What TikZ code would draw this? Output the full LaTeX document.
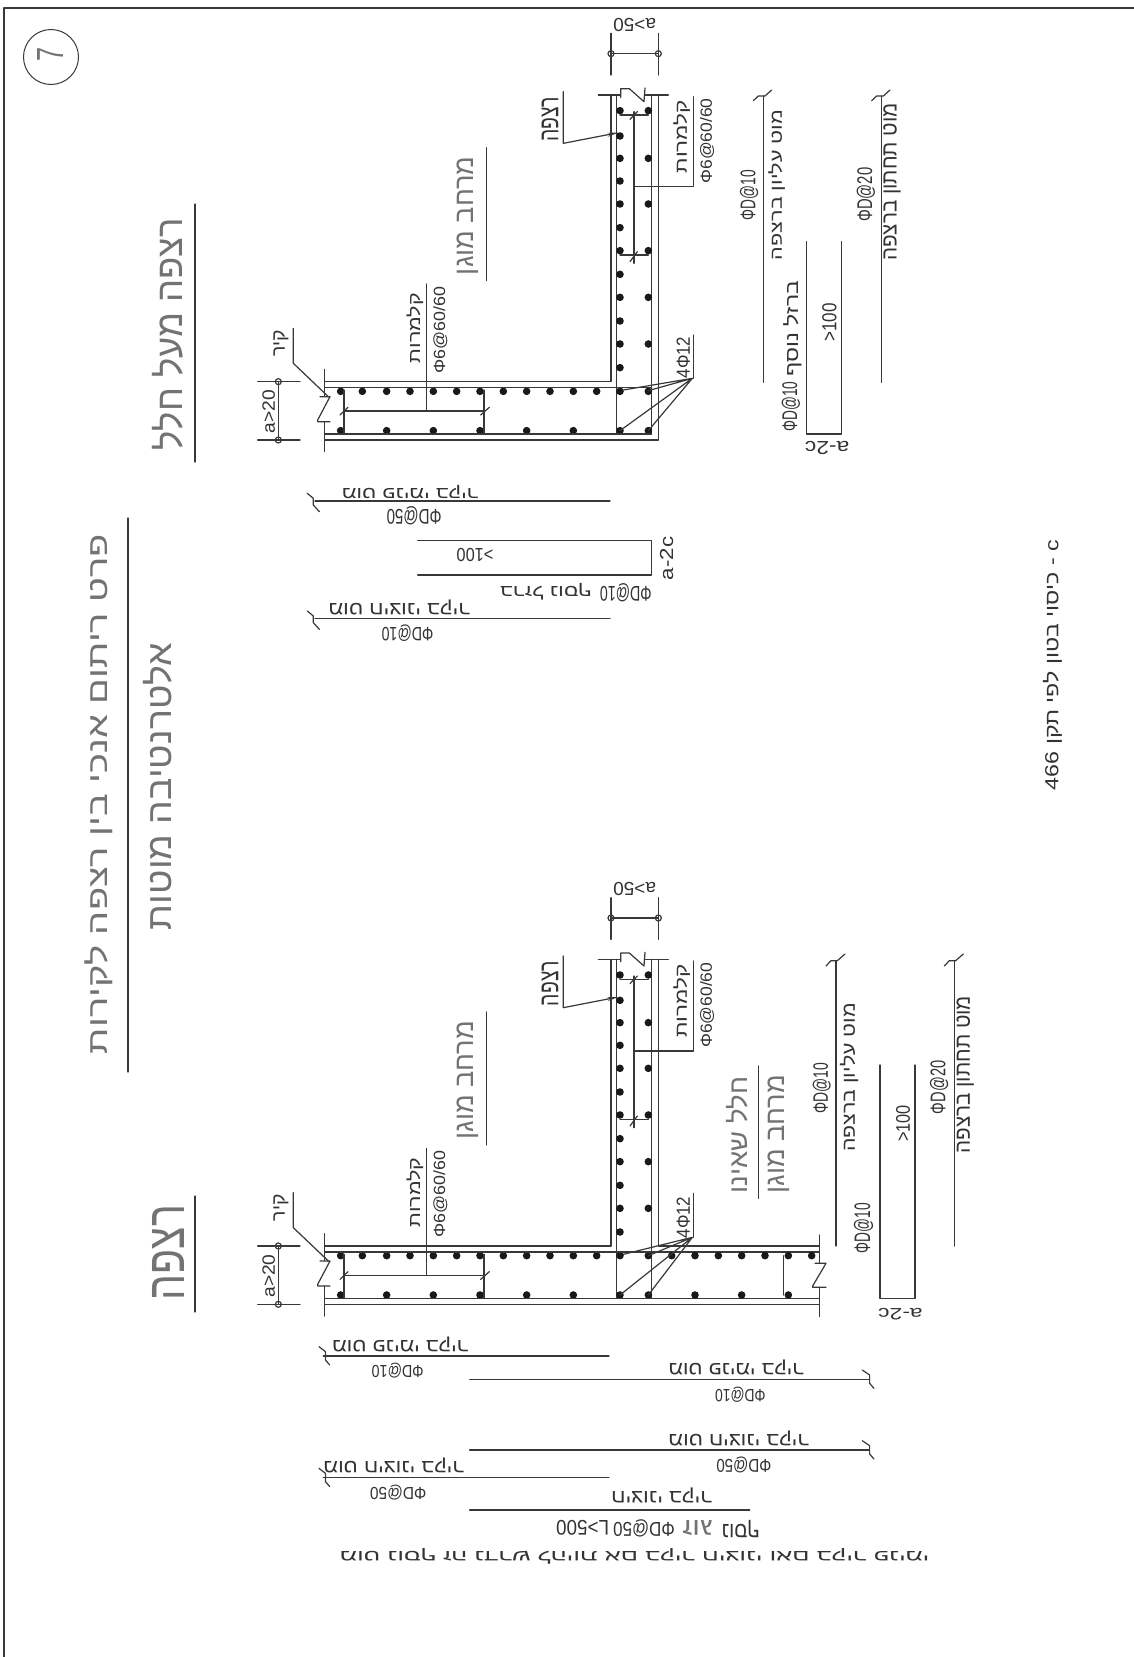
\documentclass[tikz,border=0pt]{standalone}
\usepackage{fontspec}
\usepackage{graphicx}
\usetikzlibrary{arrows.meta}
\setmainfont{Liberation Sans}
\newfontfamily\hb[Script=Hebrew]{Liberation Sans}
\TeXXeTstate=1
\newcommand\heb[1]{{\hb\beginR #1\endR}}
\newcommand\ttl[1]{{\color{black!55}#1}}
\newcounter{lc}
\def\sclx{3}\def\scly{3}
% upward text (rotate 90): x1 y1 x2 y2 text, in the current scope's units
\newcommand\vl[5]{\stepcounter{lc}%
  \pgfmathsetmacro\bl{abs(#4-#2)/\scly}\pgfmathsetmacro\bh{abs(#3-#1)/\sclx}%
  \node[lblnode,rotate=90,name=t\arabic{lc}] at ({(#1+#3)/2},{(#2+#4)/2}) {\resizebox*{\bl pt}{\bh pt}{#5}};}
% upside-down text (rotate 180)
\newcommand\hl[5]{\stepcounter{lc}%
  \pgfmathsetmacro\bl{abs(#3-#1)/\sclx}\pgfmathsetmacro\bh{abs(#4-#2)/\scly}%
  \node[lblnode,rotate=180,name=t\arabic{lc}] at ({(#1+#3)/2},{(#2+#4)/2}) {\resizebox*{\bl pt}{\bh pt}{#5}};}
\newcommand\rb[2]{\fill[dark] (#1,#2) circle[radius=3.8pt];}
\newcommand\dimc[2]{\draw[cad] (#1,#2) circle[radius=3pt];}
% parts common to both details, in the coordinates of the upper one
\newcommand\commonparts{%
  % inner concrete face
  \draw[cad] (285,1145) -- (1143,1145) -- (1143,285);
  % reinforcement faces
  \draw[cad] (1160,285) -- (1160,1302);
  \draw[cad] (1265,285) -- (1265,1302);
  % caps with break marks
  \draw[cad] (283,1108) -- (283,1188) (283,1265) -- (283,1355);
  \draw[cad] (270,1190) -- (300,1190) -- (263,1260) -- (263,1265) -- (300,1265);
  \draw[cad] (1105,285) -- (1170,285) (1245,285) -- (1315,285);
  \draw[cad] (1172,292) -- (1172,266) -- (1198,266) -- (1242,305) -- (1245,264);
  % bars
  \foreach \a in {332,397,470,540,610,680,750,820,890,960,1030,1100,1170,1255} {\rb{\a}{1174}}
  \foreach \a in {332,470,610,750,890,1030,1170,1255} {\rb{\a}{1292}}
  \foreach \a in {1103,1032,963,892,823,752,683,612,543,475,408,332} {\rb{1170}{\a}}
  \foreach \a in {332,475,612,752,892,1032} {\rb{1255}{\a}}
  % stirrups of the wall
  \draw[cad] (342,1233) -- (762,1233) (342,1170) -- (342,1300) (762,1170) -- (762,1300);
  \draw[cad] (330,1245) -- (354,1222) (752,1245) -- (778,1222);
  \draw[cad] (590,1233) -- (590,852);
  % stirrups of the slab
  \draw[cad] (1212,335) -- (1212,790) (1170,345) -- (1255,345) (1170,765) -- (1255,765);
  \draw[cad] (1200,358) -- (1222,335) (1200,785) -- (1222,755);
  \draw[cad] (1212,560) -- (1390,560) -- (1390,290);
  % dimensions
  \draw[cad] (1143,100) -- (1143,225) (1285,100) -- (1285,225) (1143,161) -- (1285,161);
  \dimc{1143}{161}\dimc{1285}{161}
  \draw[cad] (83,1145) -- (210,1145) (83,1320) -- (210,1320) (145,1145) -- (145,1320);
  \dimc{145}{1145}\dimc{145}{1320}
  % leaders
  \draw[cad,-{Stealth[length=11pt,width=4pt]}] (1000,275) -- (1000,430) -- (1165,398);
  \draw[cad] (190,985) -- (190,1090) -- (295,1190);
  \draw[cad] (770,443) -- (770,842);
  % labels
  \hl{1150}{55}{1278}{95}{a>50}
  \vl{97}{1170}{135}{1300}{a>20}
  \vl{130}{990}{175}{1070}{\heb{קיר}}
  \vl{530}{880}{580}{1090}{\heb{קלמרות}}
  \vl{610}{860}{652}{1120}{Φ6@60/60}
  \vl{1330}{300}{1380}{520}{\heb{קלמרות}}
  \vl{1410}{295}{1452}{550}{Φ6@60/60}
  \vl{935}{290}{985}{425}{\heb{רצפה}}
  \vl{680}{470}{745}{825}{\ttl{\heb{מרחב מוגן}}}
}
\tikzset{
  cad/.style={line width=1.2pt,draw=black!78,line cap=round,line join=round},
  dark/.style={fill=black!90},
  lblnode/.style={inner sep=0pt,outer sep=0pt,text=black!80}
}
\begin{document}
\begin{tikzpicture}[x=1pt,y=-1pt]
\useasboundingbox (0,0) rectangle (1134,1657);
\fill[white] (0,0) rectangle (1134,1657);
% sheet edge
\draw[cad,line width=1.5pt] (1134,8) -- (4,8) -- (4,1657);
\node[draw=black!78,line width=1pt,circle,minimum size=55pt,inner sep=0pt,name=mark] at (51,57) {};
% upper-left / side titles, in full pixels
\def\sclx{1}\def\scly{1}
\vl{1043}{540}{1062}{790}{\heb{c - כיסוי בטון לפי תקן \beginL 466\endL}}
\vl{37}{47}{63}{61}{\ttl{7}}
\draw[cad] (128,518) -- (128,1072);
\vl{85}{534}{113}{1054}{\ttl{\heb{פרט ריתום אנכי בין רצפה לקירות}}}
\vl{143}{643}{172}{930}{\ttl{\heb{אלטרנטיבה מוטות}}}
\draw[cad] (195,204) -- (195,462);
\vl{152}{218}{183}{450}{\ttl{\heb{רצפה מעל חלל}}}
\draw[cad] (195,1196) -- (195,1312);
\vl{152}{1205}{184}{1300}{\ttl{\heb{רצפה}}}
% ===== upper detail =====
\def\sclx{3}\def\scly{3}
\begin{scope}[shift={(230,0)},x=0.33333pt,y=-0.33333pt]
  \commonparts
  \draw[cad] (285,1163) -- (1265,1163);
  \draw[cad] (285,1302) -- (1265,1302);
  \draw[cad] (285,1320) -- (1285,1320) -- (1285,285);
  \draw[cad] (1390,1005) -- (1390,1135);
  \draw[cad] (1387,1135) -- (1180,1170) (1387,1135) -- (1255,1172) (1387,1135) -- (1170,1292) (1387,1135) -- (1255,1292);
  \vl{1340}{1010}{1380}{1135}{4Φ12}
\end{scope}
\begin{scope}[shift={(690,70)},x=0.33333pt,y=-0.33333pt]
  \draw[cad] (220,78) -- (220,937);
  \draw[cad] (190,92) -- (205,78) -- (225,78) -- (245,60);
  \draw[cad] (575,78) -- (575,937);
  \draw[cad] (545,92) -- (560,78) -- (580,78) -- (600,60);
  \draw[cad] (350,515) -- (350,1092) -- (455,1092) -- (455,515);
  \vl{235}{120}{285}{570}{\heb{מוט עליון ברצפה}}
  \vl{150}{300}{205}{450}{ΦD@10}
  \vl{580}{100}{632}{572}{\heb{מוט תחתון ברצפה}}
  \vl{500}{293}{555}{455}{ΦD@20}
  \vl{397}{700}{440}{815}{>100}
  \hl{345}{1115}{478}{1155}{a-2c}
  \vl{280}{632}{335}{920}{\heb{ברזל נוסף}}
  \vl{275}{935}{330}{1085}{ΦD@10}
\end{scope}
\begin{scope}[shift={(280,460)},x=0.33333pt,y=-0.33333pt]
  \draw[cad] (105,123) -- (990,123);
  \draw[cad] (82,100) -- (100,115) -- (100,135) -- (118,155);
  \draw[cad] (105,476) -- (990,476);
  \draw[cad] (82,453) -- (100,468) -- (100,488) -- (118,508);
  \draw[cad] (413,242) -- (1115,242) -- (1115,345) -- (413,345);
  \hl{185}{75}{595}{115}{\heb{מוט פנימי בקיר}}
  \hl{320}{140}{485}{195}{ΦD@50}
  \hl{530}{265}{640}{305}{>100}
  \vl{1140}{230}{1180}{360}{a-2c}
  \hl{660}{370}{935}{420}{\heb{ברזל נוסף}}
  \hl{960}{370}{1115}{425}{ΦD@10}
  \hl{145}{420}{570}{465}{\heb{מוט חיצוני בקיר}}
  \hl{305}{495}{460}{545}{ΦD@10}
\end{scope}
% ===== lower detail =====
\begin{scope}[shift={(230,864.33)},x=0.33333pt,y=-0.33333pt]
  \commonparts
  \draw[cad] (285,1163) -- (1768,1163);
  \draw[cad] (285,1302) -- (1768,1302);
  \draw[cad] (285,1320) -- (1768,1320);
  \draw[cad] (1285,285) -- (1285,1145) -- (1768,1145);
  % further bars
  \foreach \a in {1325,1395,1465,1535,1605,1675,1745} {\rb{\a}{1174}}
  \foreach \a in {1395,1535,1675} {\rb{\a}{1292}}
  % right stirrup and break mark
  \draw[cad] (1660,1174) -- (1660,1292);
  \draw[cad] (1768,1112) -- (1768,1197) (1768,1269) -- (1768,1357);
  \draw[cad] (1755,1197) -- (1788,1197) -- (1748,1265) -- (1748,1269) -- (1788,1269);
  % 4 phi 12
  \draw[cad] (1390,987) -- (1390,1119);
  \draw[cad] (1387,1119) -- (1180,1170) (1387,1119) -- (1255,1174) (1387,1119) -- (1170,1292) (1387,1119) -- (1255,1292);
  \vl{1340}{997}{1380}{1122}{4Φ12}
\end{scope}
\begin{scope}[shift={(700,940)},x=0.33333pt,y=-0.33333pt]
  \draw[cad] (408,62) -- (408,918);
  \draw[cad] (378,78) -- (393,62) -- (412,62) -- (435,42);
  \draw[cad] (763,62) -- (763,918);
  \draw[cad] (733,78) -- (748,62) -- (767,62) -- (790,42);
  \draw[cad] (540,375) -- (540,1075) -- (645,1075) -- (645,375);
  \draw[cad] (175,378) -- (175,775);
  \vl{205}{405}{270}{760}{\ttl{\heb{מרחב מוגן}}}
  \vl{80}{410}{145}{760}{\ttl{\heb{חלל שאינו}}}
  \vl{420}{190}{475}{635}{\heb{מוט עליון ברצפה}}
  \vl{338}{368}{392}{520}{ΦD@10}
  \vl{770}{168}{822}{640}{\heb{מוט תחתון ברצפה}}
  \vl{690}{362}{745}{522}{ΦD@20}
  \vl{588}{495}{630}{605}{>100}
  \hl{535}{1105}{668}{1140}{a-2c}
  \vl{462}{790}{520}{940}{ΦD@10}
\end{scope}
\def\sclx{2.31}\def\scly{3}
\begin{scope}[shift={(280,1300)},x=0.4329pt,y=-0.33333pt]
  \draw[cad] (100,168) -- (760,168);
  \draw[cad] (90,140) -- (105,155) -- (105,180) -- (115,195);
  \draw[cad] (438,238) -- (1360,238);
  \draw[cad] (1345,210) -- (1362,225) -- (1362,250) -- (1372,265);
  \draw[cad] (438,450) -- (1360,450);
  \draw[cad] (1345,422) -- (1362,437) -- (1362,462) -- (1372,477);
  \draw[cad] (100,532) -- (760,532);
  \draw[cad] (90,505) -- (105,520) -- (105,545) -- (115,560);
  \draw[cad] (438,630) -- (1085,630);
  \hl{120}{110}{435}{155}{\heb{מוט פנימי בקיר}}
  \hl{212}{190}{332}{235}{ΦD@10}
  \hl{897}{180}{1210}{225}{\heb{מוט פנימי בקיר}}
  \hl{1005}{262}{1122}{308}{ΦD@10}
  \hl{897}{392}{1222}{437}{\heb{מוט חיצוני בקיר}}
  \hl{1008}{472}{1135}{520}{ΦD@50}
  \hl{100}{475}{425}{520}{\heb{מוט חיצוני בקיר}}
  \hl{208}{555}{338}{600}{ΦD@50}
  \hl{765}{565}{998}{610}{\heb{חיצוני בקיר}}
  \hl{638}{660}{760}{705}{L>500}
  \hl{770}{660}{912}{712}{ΦD@50}
  \hl{930}{660}{1000}{705}{\ttl{\heb{זוג}}}
  \hl{1020}{660}{1108}{712}{\heb{נוסף}}
  \hl{138}{745}{1500}{792}{\heb{מוט נוסף זה נדרש להיות אם בקיר חיצוני ואם בקיר פנימי}}
\end{scope}
\end{tikzpicture}
\end{document}
